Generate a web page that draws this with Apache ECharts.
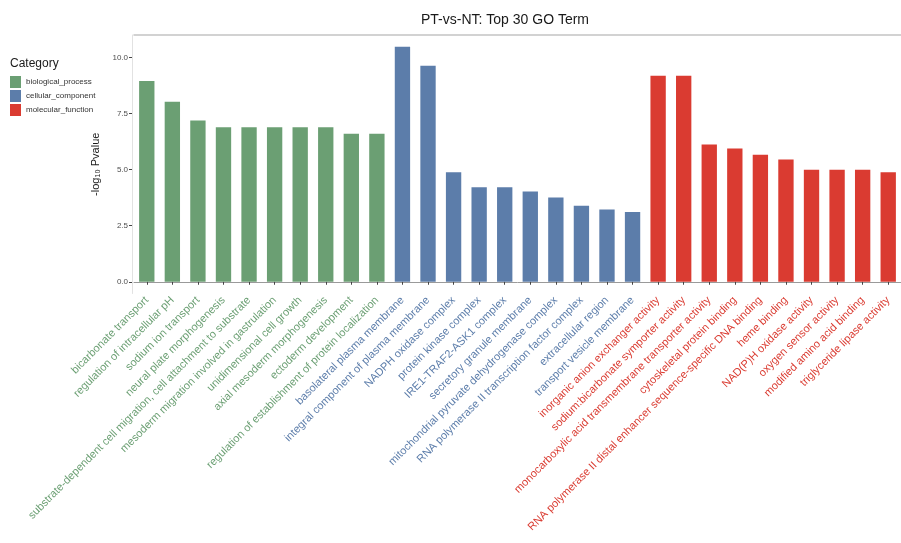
<!DOCTYPE html>
<html>
<head>
<meta charset="utf-8">
<script src="https://cdn.jsdelivr.net/npm/echarts@6/dist/echarts.min.js"></script>
<style>
  html, body { margin: 0; padding: 0; background: #fff; }
  #chart { width: 901px; height: 543px; }
</style>
</head>
<body>
<div id="chart"></div>
<script>
// GO terms in plotting order
const terms = [
  'bicarbonate transport',
  'regulation of intracellular pH',
  'sodium ion transport',
  'neural plate morphogenesis',
  'substrate-dependent cell migration, cell attachment to substrate',
  'mesoderm migration involved in gastrulation',
  'unidimensional cell growth',
  'axial mesoderm morphogenesis',
  'ectoderm development',
  'regulation of establishment of protein localization',
  'basolateral plasma membrane',
  'integral component of plasma membrane',
  'NADPH oxidase complex',
  'protein kinase complex',
  'IRE1-TRAF2-ASK1 complex',
  'secretory granule membrane',
  'mitochondrial pyruvate dehydrogenase complex',
  'RNA polymerase II transcription factor complex',
  'extracellular region',
  'transport vesicle membrane',
  'inorganic anion exchanger activity',
  'sodium:bicarbonate symporter activity',
  'monocarboxylic acid transmembrane transporter activity',
  'cytoskeletal protein binding',
  'RNA polymerase II distal enhancer sequence-specific DNA binding',
  'heme binding',
  'NAD(P)H oxidase activity',
  'oxygen sensor activity',
  'modified amino acid binding',
  'triglyceride lipase activity'
];

// -log10(Pvalue) per term
const values = [
  8.96, 8.04, 7.20, 6.90, 6.90, 6.90, 6.90, 6.90, 6.61, 6.61,
  10.49, 9.64, 4.89, 4.22, 4.22, 4.03, 3.76, 3.39, 3.23, 3.11,
  9.20, 9.20, 6.13, 5.95, 5.67, 5.46, 5.00, 5.00, 5.00, 4.89
];

// GO category of each term
const groups = [
  'biological_process', 'biological_process', 'biological_process', 'biological_process', 'biological_process',
  'biological_process', 'biological_process', 'biological_process', 'biological_process', 'biological_process',
  'cellular_component', 'cellular_component', 'cellular_component', 'cellular_component', 'cellular_component',
  'cellular_component', 'cellular_component', 'cellular_component', 'cellular_component', 'cellular_component',
  'molecular_function', 'molecular_function', 'molecular_function', 'molecular_function', 'molecular_function',
  'molecular_function', 'molecular_function', 'molecular_function', 'molecular_function', 'molecular_function'
];

const categoryNames = ['biological_process', 'cellular_component', 'molecular_function'];
const yTicks = [0, 2.5, 5, 7.5, 10];

const palette = {
  biological_process: '#6b9f73',
  cellular_component: '#5c7daa',
  molecular_function: '#da3b31'
};

const series = categoryNames.map(function (g) {
  return {
    name: g,
    type: 'bar',
    stack: 'go',
    barWidth: '60%',
    itemStyle: { color: palette[g] },
    emphasis: { disabled: true },
    data: values.map(function (v, i) { return groups[i] === g ? v : '-'; })
  };
});

const chart = echarts.init(document.getElementById('chart'), null, { renderer: 'canvas' });

chart.setOption({
  animation: false,
  backgroundColor: '#ffffff',
  textStyle: { fontFamily: 'Liberation Sans, Arial, sans-serif' },
  title: [
    {
      text: 'PT-vs-NT: Top 30 GO Term',
      left: 505,
      top: 13,
      padding: 0,
      textAlign: 'center',
      textStyle: { fontSize: 14, fontWeight: 'normal', color: '#1a1a1a', fontFamily: 'Liberation Sans, Arial, sans-serif' }
    },
    {
      text: 'Category',
      left: 10,
      top: 58,
      padding: 0,
      textStyle: { fontSize: 12, fontWeight: 'normal', color: '#1a1a1a', fontFamily: 'Liberation Sans, Arial, sans-serif' }
    }
  ],
  legend: {
    orient: 'vertical',
    left: 10,
    top: 76,
    padding: 0,
    itemWidth: 11,
    itemHeight: 12,
    itemGap: 2,
    icon: 'rect',
    selectedMode: false,
    textStyle: { fontSize: 8, color: '#333', padding: [0, 0, 0, 0] },
    data: categoryNames
  },
  grid: {
    left: 134,
    right: -8,
    top: 35,
    bottom: 249.5,
    containLabel: false
  },
  xAxis: [
    {
      type: 'category',
      data: terms,
      position: 'bottom',
      axisLine: { show: true, lineStyle: { color: '#9a9a9a', width: 1 } },
      axisTick: { show: true, alignWithLabel: true, length: 3, lineStyle: { color: '#444' } },
      axisLabel: {
        interval: 0,
        rotate: 45,
        margin: 5,
        fontSize: 11,
        color: function (value, index) { return palette[groups[index]]; }
      },
      splitLine: { show: false }
    },
    {
      type: 'category',
      data: terms,
      position: 'top',
      axisLine: { show: true, lineStyle: { color: '#c4c4c4', width: 1.5 } },
      axisTick: { show: false },
      axisLabel: { show: false },
      splitLine: { show: false }
    }
  ],
  yAxis: {
    type: 'value',
    min: -0.5245,
    max: 11.0145,
    offset: 2,
    name: '-log\u2081\u2080 Pvalue',
    nameLocation: 'middle',
    nameRotate: 90,
    nameGap: 28,
    nameTextStyle: { fontSize: 11, color: '#1a1a1a' },
    axisLine: { show: true, lineStyle: { color: '#e2e2e2', width: 1 } },
    axisTick: {
      show: true,
      length: 3,
      customValues: yTicks,
      lineStyle: { color: '#444' }
    },
    axisLabel: {
      customValues: yTicks,
      margin: 4,
      fontSize: 8,
      color: '#4d4d4d',
      formatter: function (v) { return v.toFixed(1); }
    },
    splitLine: { show: false }
  },
  series: series
});
</script>
</body>
</html>
